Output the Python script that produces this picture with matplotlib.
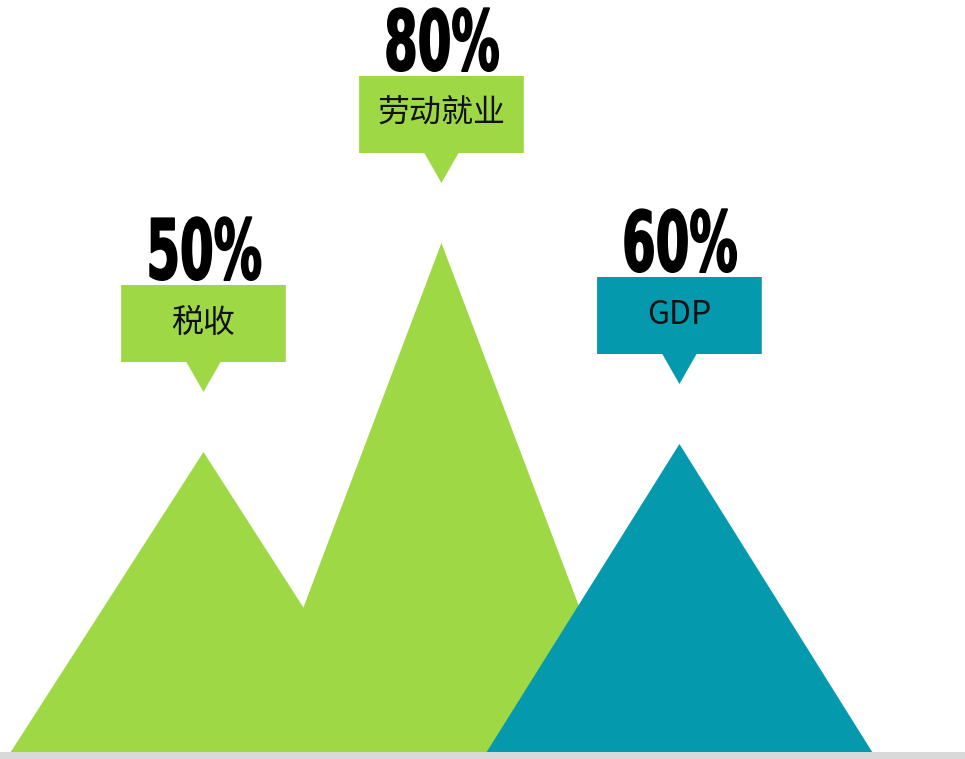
import matplotlib
matplotlib.use("Agg")
import matplotlib.pyplot as plt
from matplotlib.patches import Polygon, Rectangle
from matplotlib.patheffects import AbstractPathEffect
from matplotlib.transforms import Affine2D

plt.rcParams['font.family'] = ['Noto Sans CJK SC', 'DejaVu Sans']

# data
categories = ['税收', '劳动就业', 'GDP']
percent_labels = ['50%', '80%', '60%']
peak_heights = [300, 509, 308]          # height of each mountain (axis units)
colors = ['#9ed945', '#9ed945', '#0599ad']


class Squeeze(AbstractPathEffect):
    """squash glyphs horizontally around their centre and thicken them (impact-like look)"""
    def __init__(self, sx, stroke=1.2):
        super().__init__()
        self.sx = sx
        self.stroke = stroke

    def draw_path(self, renderer, gc, tpath, affine, rgbFace=None):
        ext = tpath.get_extents()
        cx = (ext.x0 + ext.x1) / 2
        sq = Affine2D().translate(-cx, 0).scale(self.sx, 1).translate(cx, 0)
        gc0 = renderer.new_gc()
        gc0.copy_properties(gc)
        gc0.set_linewidth(self.stroke)
        gc0.set_foreground(rgbFace)
        renderer.draw_path(gc0, tpath, sq + affine, rgbFace)
        gc0.restore()


fig = plt.figure(figsize=(9.65, 7.59), dpi=100)
ax = fig.add_axes([0, 7 / 759, 1, 752 / 759])
ax.set_xlim(-0.855, 3.2)
ax.set_ylim(0, 752)
ax.axis('off')

# grey base line
fig.add_artist(Rectangle((0, 0), 1, 7 / 759, transform=fig.transFigure,
                         color='#d9d9d9', lw=0))

half_w = 0.81        # half of the mountain base
box_hw = 0.346       # half width of callout box
tip_hw = 0.072       # half width of callout pointer

for i, (cat, pct, h, c) in enumerate(zip(categories, percent_labels, peak_heights, colors)):
    ax.add_patch(Polygon([(i - half_w, 0), (i, h), (i + half_w, 0)],
                         closed=True, facecolor=c, edgecolor='none', zorder=1 + i))

    tip = h + 60
    bot = h + 90
    top = h + 167
    callout = [(i, tip), (i + tip_hw, bot), (i + box_hw, bot), (i + box_hw, top),
               (i - box_hw, top), (i - box_hw, bot), (i - tip_hw, bot)]
    ax.add_patch(Polygon(callout, closed=True, facecolor=c, edgecolor='none', zorder=5))

    ax.text(i, (bot + top) / 2 + 1, cat, ha='center', va='center',
            fontsize=23, color='#111111', zorder=6)
    ax.text(i, top + 6, pct, ha='center', va='baseline', fontsize=60,
            fontweight='bold', family='DejaVu Sans', color='black', zorder=6,
            path_effects=[Squeeze(0.58)])

fig.savefig('out.png', dpi=100)
